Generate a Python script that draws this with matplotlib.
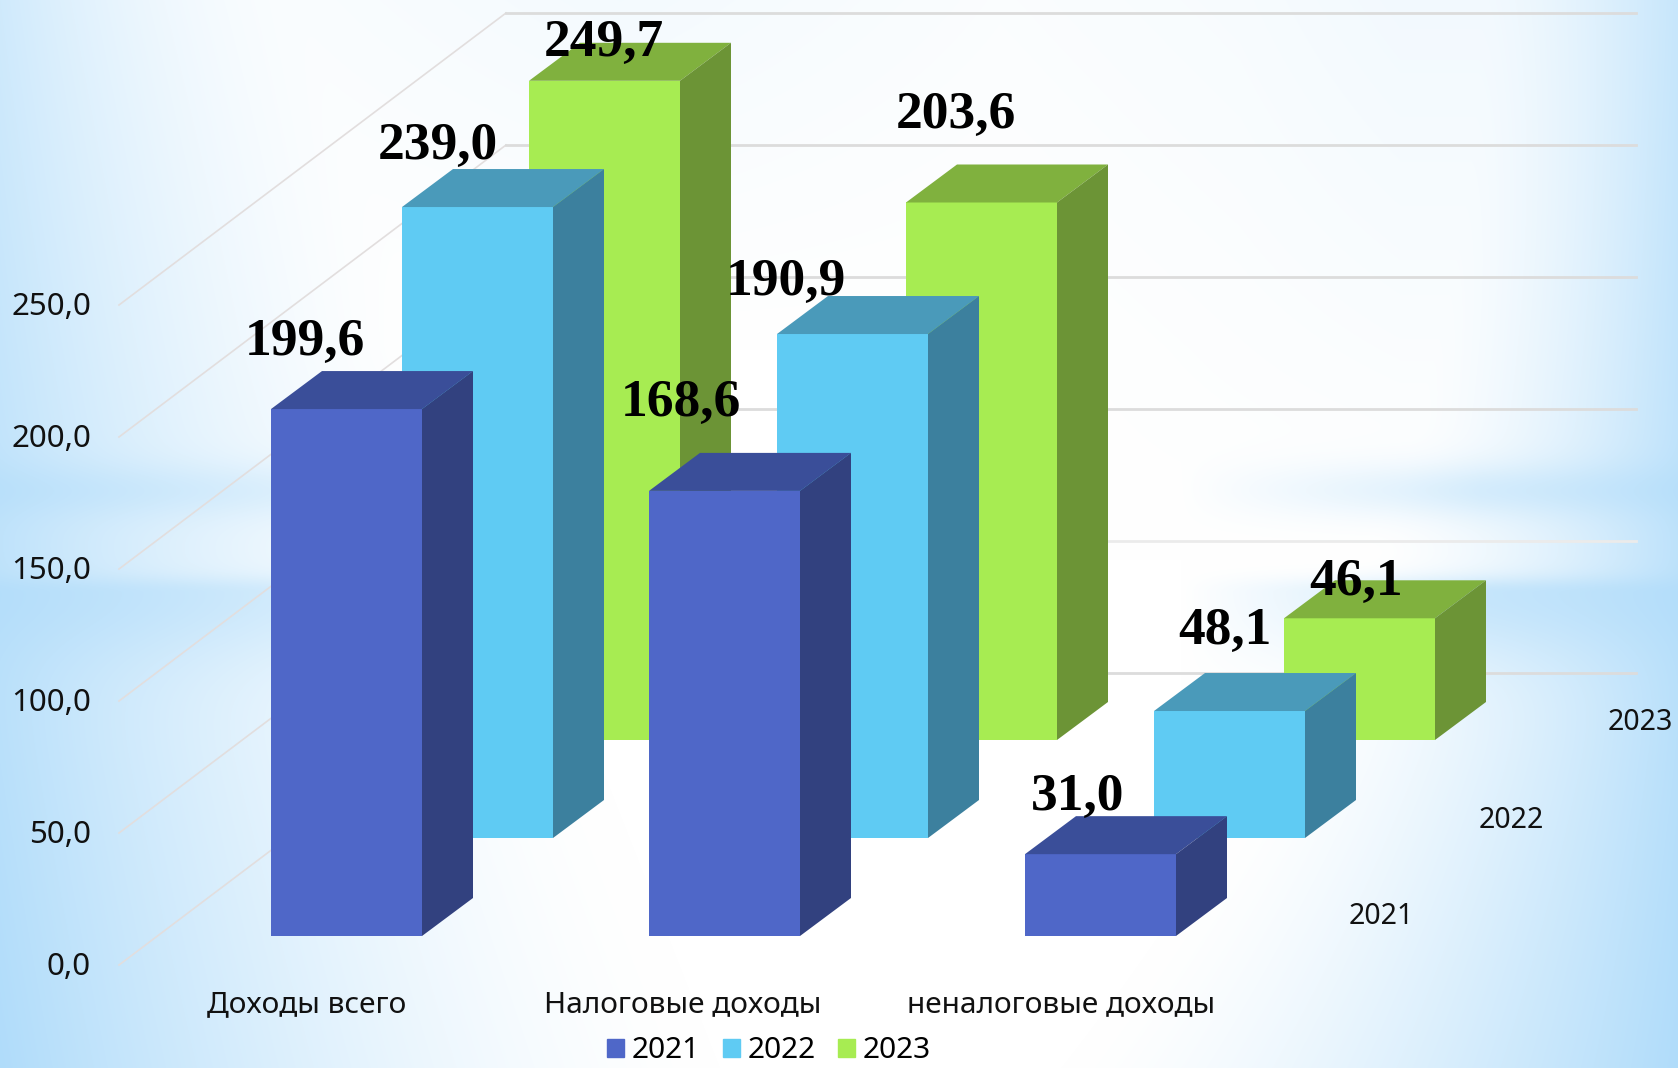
import numpy as np
import matplotlib
matplotlib.use('Agg')
import matplotlib.pyplot as plt
from matplotlib.patches import Patch

# data
years = ['2021', '2022', '2023']
categories = ['Доходы всего', 'Налоговые доходы', 'неналоговые доходы']
values_2021 = [199.6, 168.6, 31.0]
values_2022 = [239.0, 190.9, 48.1]
values_2023 = [249.7, 203.6, 46.1]
axis_ticks = [0, 50, 100, 150, 200, 250]

# colours: front, top, side
colors_2021 = ['#4F67C8', '#3A4E99', '#32417F']
colors_2022 = ['#5FCBF3', '#4A9ABA', '#3C809E']
colors_2023 = ['#A7EC52', '#80B13E', '#6C9436']

# layout in pixels
W, H = 1678, 1068
px_per_unit = 2.64
zero_px = 936
lefts_2021 = [271, 649, 1025]
lefts_2022 = [402, 777, 1154]
lefts_2023 = [529, 906, 1284]
series_base = [0, 98 / px_per_unit, 196 / px_per_unit]
bar_w = 151
depth_x = 51
depth_y = 38 / px_per_unit
wall_x0, wall_x1, grid_x1 = 119, 506, 1636
wall_front = -29 / px_per_unit
wall_back = 263 / px_per_unit

# label offsets from top-left of the bar front (pixels, up is positive)
label_dx = [[34, 32, 53], [36, 9, 71], [75, 50, 72]]
label_dy = [[54, 75, 44], [48, 39, 67], [25, 75, 23]]


def background():
    X, Y = np.meshgrid(np.arange(W), np.arange(H))
    yy = Y / H
    left_len = 300 + 420 * yy
    a_left = np.clip(1 - X / left_len, 0, 1) ** 1.6 * (0.6 + 0.4 * yy)
    x0 = 1480 - 420 * yy ** 2
    a_right = np.clip((X - x0) / (W - x0), 0, 1) ** 1.5 * (0.65 + 0.35 * yy)
    # two soft bands across the middle, the lower one with a harder top edge
    band_a = np.exp(-((Y - 490) / 28.0) ** 2) * 0.45
    band_b = np.where(Y < 592, np.exp(-((Y - 592) / 16.0) ** 2),
                      np.exp(-((Y - 592) / 70.0) ** 2)) * 0.65
    left_w = np.clip(1 - X / 560.0, 0, 1) ** 0.6
    right_w = np.clip((X - 1180) / 300.0, 0, 1)
    a_band = (band_a + band_b) * np.maximum(left_w, right_w)
    a_tint = 0.14 * np.clip(1 - np.abs(X - 620) / 620.0, 0, 1) * np.clip(1 - Y / 350.0, 0, 1) \
        + 0.16 * np.clip((X - 1000) / 400.0, 0, 1) * np.clip(1 - Y / 560.0, 0, 1)
    a = 1 - (1 - a_left) * (1 - a_right) * (1 - a_band) * (1 - a_tint)
    blue = np.array([176, 220, 250]) / 255.0
    return 1 - np.clip(a, 0, 1)[..., None] * (1 - blue)


fig = plt.figure(figsize=(W / 100, H / 100), dpi=100)
bg = fig.add_axes([0, 0, 1, 1])
bg.imshow(background(), aspect='auto', interpolation='bilinear')
bg.axis('off')

ax = fig.add_axes([0, 0, 1, 1])
ax.patch.set_alpha(0)
ax.set_xlim(0, W)
ax.set_ylim((zero_px - H) / px_per_unit, zero_px / px_per_unit)
ax.axis('off')

# back wall grid, side wall lines, axis labels
for tick in axis_ticks:
    ax.plot([wall_x0, wall_x1], [tick + wall_front, tick + wall_back],
            color='#E2DEDE', lw=1.2, zorder=1)
    ax.plot([wall_x1, grid_x1], [tick + wall_back, tick + wall_back],
            color='#EBEBEB' if tick == 50 else '#DCDCDC', lw=2, zorder=1)
    ax.text(91, tick + wall_front - 0.7, f'{tick:.1f}'.replace('.', ','), ha='right',
            va='center', fontsize=22.5, family='Noto Sans', color='#111111', zorder=5)

series = [values_2021, values_2022, values_2023]
series_lefts = [lefts_2021, lefts_2022, lefts_2023]
palette = [colors_2021, colors_2022, colors_2023]

# back series first so the front ones cover them
for s in [2, 1, 0]:
    base = series_base[s]
    front, top, side = palette[s]
    z = 2 + (2 - s) * 0.5
    ax.bar(series_lefts[s], series[s], width=bar_w, bottom=base, align='edge',
           color=front, linewidth=0, zorder=z)
    for x, v in zip(series_lefts[s], series[s]):
        y = base + v
        ax.fill([x, x + depth_x, x + bar_w + depth_x, x + bar_w],
                [y, y + depth_y, y + depth_y, y], color=top, lw=0, zorder=z)
        ax.fill([x + bar_w, x + bar_w + depth_x, x + bar_w + depth_x, x + bar_w],
                [base, base + depth_y, y + depth_y, y], color=side, lw=0, zorder=z)

# value labels sit over every bar
for s in range(3):
    for g, v in enumerate(series[s]):
        ax.annotate(f'{v:.1f}'.replace('.', ','),
                    xy=(series_lefts[s][g], series_base[s] + v),
                    xytext=(label_dx[s][g] * 0.72, label_dy[s][g] * 0.72),
                    textcoords='offset points', ha='center', va='baseline',
                    fontsize=38.5, fontweight='bold', family='Liberation Serif',
                    color='black', zorder=6)

# category labels under the front row
cat_y = (zero_px - 1005) / px_per_unit
for x, name in zip([307, 683, 1061], categories):
    ax.text(x, cat_y, name, ha='center', va='center', fontsize=21.5,
            family='Noto Sans', color='#111111', zorder=5)

# depth axis labels
for x, py, name in zip([1381, 1511, 1640], [917, 820, 722], years):
    ax.text(x, (zero_px - py) / px_per_unit, name, ha='center', va='center',
            fontsize=20.5, family='Noto Sans', color='#111111', zorder=5)

handles = [Patch(color=palette[i][0], label=years[i]) for i in range(3)]
leg = ax.legend(handles=handles, ncol=3, loc='center', frameon=False,
                bbox_to_anchor=(769 / W, 1 - 1051 / H),
                prop={'family': 'Noto Sans', 'size': 21.5},
                handlelength=0.58, handleheight=0.58, handletextpad=0.25,
                columnspacing=0.75, borderpad=0)

fig.savefig('out.png', dpi=100)
